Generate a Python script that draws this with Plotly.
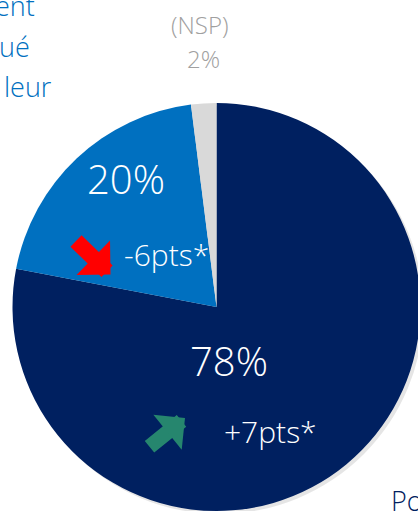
import plotly.graph_objects as go

# ---- data ----
labels = ["Positif", "Négatif", "(NSP)"]
values = [78, 20, 2]
colors = ["#002060", "#0070C0", "#D9D9D9"]
changes = ["+7pts*", "-6pts*"]
side_fragments = ["ent", "ué", "leur"]
bottom_fragment = "Po"

W, H = 424, 516
FONT = "Open Sans"


def px(x):
    return x / W


def py(y):
    return (H - y) / H


# pie box in pixels: centre (216.5, 307), radius 204
cx, cy, r = 216.5, 307, 204

fig = go.Figure()
# soft shadow
fig.add_trace(go.Pie(
    values=[1], labels=["shadow"], marker=dict(colors=["rgba(0,0,0,0.10)"], line=dict(width=0)),
    textinfo="none", hoverinfo="skip", sort=False, showlegend=False,
    domain=dict(x=[px(cx - r + 3), px(cx + r + 3)], y=[py(cy + r + 3), py(cy - r + 3)]),
))
fig.add_trace(go.Pie(
    labels=labels, values=values, sort=False, direction="clockwise", rotation=0,
    marker=dict(colors=colors, line=dict(width=0)),
    textinfo="none", hoverinfo="label+percent", showlegend=False,
    domain=dict(x=[px(cx - r), px(cx + r)], y=[py(cy + r), py(cy - r)]),
))

ann = []


def text(x, y, s, size, color, xanchor="center", yanchor="middle"):
    ann.append(dict(x=px(x), y=py(y), xref="paper", yref="paper", text=s, showarrow=False,
                    xanchor=xanchor, yanchor=yanchor,
                    font=dict(family=FONT, size=size, color=color, weight=300)))


text(126, 179, f"{values[1]}%", 40, "white")
text(229, 360, f"{values[0]}%", 40, "white")
text(166, 254, changes[1], 30, "white")
text(270, 431, changes[0], 30, "white")
text(200, 25, labels[2], 24, "#A0A0A0")
text(203, 59, f"{values[2]}%", 24, "#A0A0A0")
for frag, (xr, yb) in zip(side_fragments, [(37, 5), (32, 46), (54, 87)]):
    text(xr, yb, frag, 27, "#0070C0", xanchor="right")
text(389, 500, bottom_fragment, 27, "#002060", xanchor="left")

# arrows
ann.append(dict(x=px(110.5), y=py(274.5), xref="paper", yref="paper", text="", showarrow=True,
                ax=-36, ay=-35, axref="pixel", ayref="pixel", arrowhead=1, arrowwidth=16,
                arrowsize=0.5, arrowcolor="#FF0000", standoff=0, startstandoff=0))
ann.append(dict(x=px(185), y=py(418), xref="paper", yref="paper", text="", showarrow=True,
                ax=-37, ay=30, axref="pixel", ayref="pixel", arrowhead=1, arrowwidth=15,
                arrowsize=0.5, arrowcolor="#26866E", standoff=0, startstandoff=0))

fig.update_layout(
    width=W, height=H, margin=dict(l=0, r=0, t=0, b=0),
    paper_bgcolor="white", plot_bgcolor="white",
    annotations=ann, showlegend=False,
)

fig.write_html(
    "out.html",
    config={"displayModeBar": False},
    post_script="document.body.style.margin='0';document.body.style.overflow='hidden';"
                "document.documentElement.style.overflow='hidden';",
)
